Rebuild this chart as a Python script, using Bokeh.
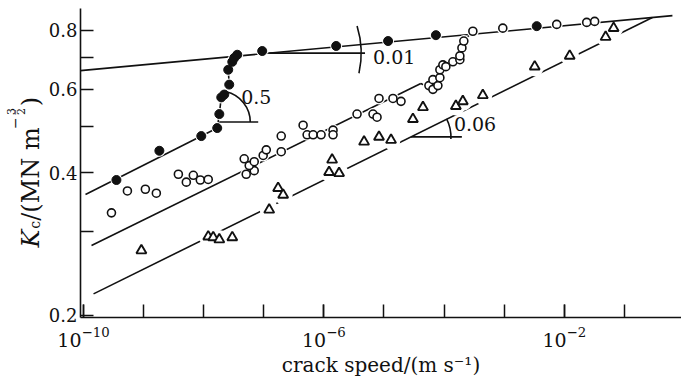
import math
from bokeh.plotting import figure
from bokeh.layouts import row
from bokeh.models import Range1d, FixedTicker, LogTickFormatter, PrintfTickFormatter, Label
from bokeh.core.properties import value
from bokeh.embed import file_html
from bokeh.resources import INLINE

# ---------------- data: crack speed (m/s) and Kc (MN m^-3/2) ----------------
filled_v = [3.53e-10, 1.83e-9, 9.12e-9, 1.68e-8, 1.82e-8, 1.96e-8, 2.20e-8, 2.66e-8, 2.56e-8,
            2.99e-8, 3.22e-8, 3.62e-8, 9.41e-8, 1.60e-6, 1.17e-5, 7.31e-5, 3.48e-3]
filled_k = [0.386, 0.445, 0.478, 0.497, 0.532, 0.577, 0.585, 0.614, 0.660,
            0.686, 0.699, 0.710, 0.723, 0.741, 0.759, 0.781, 0.816]

open_v = [2.92e-10, 5.38e-10, 1.07e-9, 1.63e-9, 3.79e-9, 5.14e-9, 6.72e-9, 8.78e-9, 1.19e-8,
          5.10e-8, 6.93e-8, 5.72e-8, 6.93e-8, 4.72e-8, 9.77e-8, 1.10e-7, 1.95e-7, 1.95e-7,
          4.51e-7, 5.26e-7, 6.62e-7, 8.98e-7, 1.42e-6, 1.42e-6, 3.56e-6, 6.57e-6, 7.66e-6,
          8.26e-6, 1.41e-5, 1.92e-5, 5.59e-5, 6.52e-5, 6.52e-5, 7.89e-5, 8.51e-5, 8.51e-5,
          9.55e-5, 1.07e-4, 1.40e-4, 1.83e-4, 1.83e-4, 1.98e-4, 2.13e-4, 3.01e-4, 9.48e-4,
          7.48e-3, 2.36e-2, 3.20e-2]
open_k = [0.329, 0.366, 0.369, 0.362, 0.397, 0.382, 0.395, 0.386, 0.387,
          0.397, 0.404, 0.414, 0.422, 0.428, 0.435, 0.447, 0.478, 0.443,
          0.504, 0.481, 0.481, 0.481, 0.492, 0.481, 0.532, 0.532, 0.524,
          0.574, 0.574, 0.566, 0.611, 0.600, 0.629, 0.611, 0.635, 0.660,
          0.676, 0.670, 0.686, 0.693, 0.706, 0.734, 0.759, 0.796, 0.808,
          0.823, 0.831, 0.835]

tri_v = [9.19e-10, 1.19e-8, 1.44e-8, 1.82e-8, 2.99e-8, 1.23e-7, 1.73e-7, 2.10e-7, 1.37e-6,
         1.22e-6, 1.79e-6, 4.66e-6, 8.26e-6, 1.31e-5, 3.03e-5, 4.45e-5, 1.57e-4, 2.05e-4,
         4.41e-4, 3.22e-3, 1.23e-2, 4.87e-2, 6.62e-2]
tri_k = [0.274, 0.293, 0.292, 0.289, 0.292, 0.334, 0.371, 0.359, 0.426,
         0.401, 0.399, 0.465, 0.476, 0.469, 0.519, 0.550, 0.553, 0.566,
         0.583, 0.670, 0.706, 0.774, 0.808]

# fitted power laws  K = k0 * (v / 1e-10) ** n   (k0, n, v_from, v_to)
fit_top = (0.658, 0.0118, 8.9e-11, 0.63)
fit_filled = (0.358, 0.064, 1.08e-10, 1.62e-8)
fit_open = (0.2753, 0.0625, 1.36e-10, 4.1e-5)
fit_tri = (0.2165, 0.0628, 1.47e-10, None)   # runs up to the top line

# indices of points joined in the fast transitions
filled_step = list(range(3, 12))
open_step = list(range(30, 44))

x_ticks = [1e-10, 1e-6, 1e-2]
x_minor = [10.0 ** e for e in range(-10, 0)]
y_ticks = [0.2, 0.4, 0.6, 0.8]
y_minor = [0.3, 0.5, 0.7]

# ---------------- layout ----------------
W, H = 681, 379
LABW = 45                      # strip holding the y-axis title
LX0, LX1 = -10.0498, -0.0498
LY0, LY1 = -0.70392, -0.05102
FL, FT, FR, FB = 79, 8, 681, 321
SERIF = "DejaVu Serif"
INK = "#111111"


def sx(px):
    return 10 ** (LX0 + (px - FL) / (FR - FL) * (LX1 - LX0))


def sy(py):
    return 10 ** (LY1 - (py - FT) / (FB - FT) * (LY1 - LY0))


def fit_k(fit, v):
    return fit[0] * (v / 1e-10) ** fit[1]


p = figure(width=W - LABW, height=H, x_axis_type="log", y_axis_type="log",
           x_range=Range1d(10 ** LX0, 10 ** LX1), y_range=Range1d(10 ** LY0, 10 ** LY1),
           output_backend="svg", toolbar_location=None,
           min_border_left=FL - LABW, min_border_right=0, min_border_top=FT,
           min_border_bottom=H - FB)
p.outline_line_color = None
p.grid.visible = False
p.background_fill_color = "white"
p.border_fill_color = "white"

for ax in (p.xaxis[0], p.yaxis[0]):
    ax.major_tick_in = 13
    ax.major_tick_out = 0
    ax.minor_tick_in = 13
    ax.minor_tick_out = 0
    ax.major_tick_line_width = 1.5
    ax.minor_tick_line_width = 1.5
    ax.major_tick_line_color = INK
    ax.minor_tick_line_color = INK
    ax.axis_line_width = 1.6
    ax.axis_line_color = INK
    ax.major_label_text_font = SERIF
    ax.major_label_text_font_size = "18px"
    ax.major_label_text_color = INK

xa = p.xaxis[0]
xa.ticker = FixedTicker(ticks=x_ticks, minor_ticks=x_minor)
xa.formatter = LogTickFormatter()
xa.major_label_text_font_size = "19px"
xa.major_label_standoff = 9
xa.axis_label = "crack speed/(m s\u207b\u00b9)"
xa.axis_label_text_font = SERIF
xa.axis_label_text_font_size = "20px"
xa.axis_label_text_font_style = "normal"
xa.axis_label_text_color = INK
xa.axis_label_standoff = 3

ya = p.yaxis[0]
ya.ticker = FixedTicker(ticks=y_ticks, minor_ticks=y_minor)
ya.formatter = PrintfTickFormatter(format="%.1f")
ya.major_label_standoff = 3

# ---------------- fitted lines ----------------
LW = 1.6


def fit_line(fit, v_to=None):
    v0 = fit[2]
    v1 = fit[3] if v_to is None else v_to
    return [v0, v1], [fit_k(fit, v0), fit_k(fit, v1)]


# triangle line ends where it meets the top line
t_meet = 10 ** ((math.log10(fit_top[0]) - math.log10(fit_tri[0])) / (fit_tri[1] - fit_top[1]))
v_meet = 1e-10 * t_meet

xs, ys = fit_line(fit_tri, v_meet)
p.line(xs, ys, line_color=INK, line_width=LW)
# white halos break the triangle line at its points
p.scatter(tri_v, tri_k, marker="circle", size=19, fill_color="white", line_color=None)

xs, ys = fit_line(fit_top)
p.line(xs, ys, line_color=INK, line_width=LW)
xs, ys = fit_line(fit_filled)
p.line(xs, ys, line_color=INK, line_width=LW)
xs, ys = fit_line(fit_open)
p.line(xs, ys, line_color=INK, line_width=LW)

# steep transitions joined through the points
fs = sorted(filled_step, key=lambda i: filled_k[i])
p.line([filled_v[i] for i in fs], [filled_k[i] for i in fs], line_color=INK, line_width=LW)
os_ = sorted(open_step, key=lambda i: open_k[i])
ov = [fit_open[3]] + [open_v[i] for i in os_]
ok = [fit_k(fit_open, fit_open[3])] + [open_k[i] for i in os_]
p.line(ov, ok, line_color=INK, line_width=LW)

# halos for the circles
p.scatter(open_v + filled_v, open_k + filled_k, marker="circle", size=12,
          fill_color="white", line_color=None)

# ---------------- markers ----------------
p.scatter(tri_v, tri_k, marker="triangle", size=10, fill_color="white",
          line_color=INK, line_width=1.9)
p.scatter(open_v, open_k, marker="circle", size=8, fill_color="white",
          line_color=INK, line_width=1.6)
p.scatter(filled_v, filled_k, marker="circle", size=9, fill_color=INK,
          line_color=INK, line_width=1)


# ---------------- slope annotations ----------------
def slope_mark(vx, ky, px_len, radius, a0, a1, label, lpx, lpy):
    p.line([vx, vx * 10 ** (px_len * (LX1 - LX0) / (FR - FL))], [ky, ky],
           line_color=INK, line_width=LW)
    p.arc(x=[vx], y=[ky], radius=radius, radius_units="screen",
          start_angle=a0, end_angle=a1, line_color=INK, line_width=LW)
    p.add_layout(Label(x=sx(lpx), y=sy(lpy), text=label, text_font=SERIF,
                       text_font_size="19px", text_color=INK,
                       text_align="left", text_baseline="middle"))


v01 = sx(268)
slope_mark(v01, fit_k(fit_top, v01), 96, 92, -0.22, 0.30, "0.01", 372, 57)
slope_mark(sx(218), sy(123), 39, 31, 0.0, 1.35, "0.5", 240, 98)
v06 = sx(410)
slope_mark(v06, fit_k(fit_tri, v06), 51, 40, -0.05, 0.47, "0.06", 453, 125)

# ---------------- y axis title, in a strip whose frame is aligned with the plot's ----------------
lab = figure(width=LABW, height=H, x_range=Range1d(0, LABW), y_range=Range1d(H - FB, H - FT),
             output_backend="svg", toolbar_location=None,
             x_axis_location=None, y_axis_location=None,
             min_border_left=0, min_border_right=0, min_border_top=FT,
             min_border_bottom=H - FB)
lab.outline_line_color = None
lab.grid.visible = False
lab.border_fill_color = "white"
lab.background_fill_color = "white"

BASE = 30
pieces = [  # text, baseline x, start y (pixels from top), size, style
    ("K", BASE, 250, "24px", "italic"),
    ("c", BASE + 4, 231, "14px", "normal"),
    ("/(MN m", BASE, 223, "24px", "normal"),
    ("\u2212", BASE - 16, 130, "14px", "normal"),
    ("3", BASE - 20, 116, "11px", "normal"),
    ("\u2013", BASE - 16, 116, "11px", "normal"),
    ("2", BASE - 10, 116, "11px", "normal"),
    (")", BASE, 107, "24px", "normal"),
]
for txt, px, py, size, style in pieces:
    lab.text(x=[px], y=[H - py], text=[txt], angle=math.pi / 2,
             text_font=value(SERIF), text_font_size=value(size),
             text_font_style=style, text_color=INK,
             text_align="left", text_baseline="alphabetic")

layout = row(lab, p, spacing=0)
open("out.html", "w").write(file_html(layout, INLINE))
